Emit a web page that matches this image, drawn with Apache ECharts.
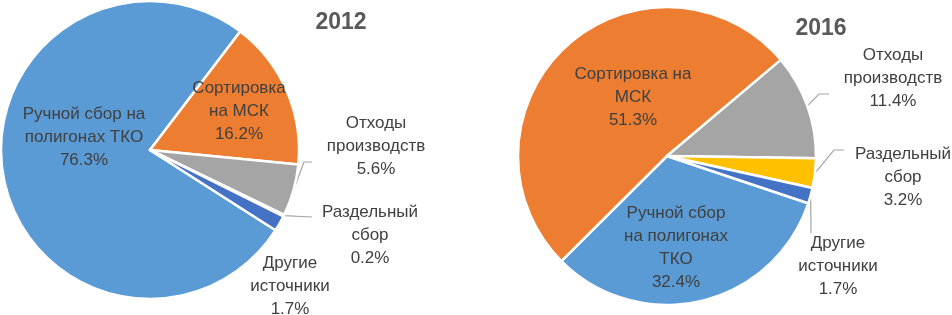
<!DOCTYPE html>
<html>
<head>
<meta charset="utf-8">
<script src="https://cdn.jsdelivr.net/npm/echarts@6/dist/echarts.min.js"></script>
<style>
html,body{margin:0;padding:0;background:#fff;}
#c{width:952px;height:315px;}
</style>
</head>
<body>
<div id="c"></div>
<script>
// ---- data ----
var categories = ['Ручной сбор на полигонах ТКО', 'Сортировка на МСК', 'Отходы производств', 'Раздельный сбор', 'Другие источники'];
var values2012 = [76.3, 16.2, 5.6, 0.2, 1.7];
var values2016 = [32.4, 51.3, 11.4, 3.2, 1.7];
var labels2012 = ['Ручной сбор на\nполигонах ТКО', 'Сортировка\nна МСК', 'Отходы\nпроизводств', 'Раздельный\nсбор', 'Другие\nисточники'];
var labels2016 = ['Ручной сбор\nна полигонах\nТКО', 'Сортировка на\nМСК', 'Отходы\nпроизводств', 'Раздельный\nсбор', 'Другие\nисточники'];
var titles = ['2012', '2016'];

// ---- styling / layout ----
var colors = ['#5B9BD5', '#ED7D31', '#A5A5A5', '#FFC000', '#4472C4'];
var labelPos2012 = [[84,137],[239,111],[376,146],[370,235],[290,286]];
var labelPos2016 = [[676,248],[633,97],[893,78],[903,177],[838,266]];
// extra leader-line points after the slice anchor (null = no leader line)
var guide2012 = [null, null, [[304,162],[312,162]], [[312,217]], null];
var guide2016 = [null, null, [[819,94],[829,94]], [[834,150],[844,150]], [[811,233]]];

var FONT = 'Liberation Sans';
var chart = echarts.init(document.getElementById('c'), null, {renderer: 'canvas'});

function buildData(vals, guide) {
  return vals.map(function (v, i) {
    return {
      name: categories[i],
      value: v,
      itemStyle: {color: colors[i]},
      label: {position: guide[i] ? 'outside' : 'inside'},
      labelLine: {show: !!guide[i]}
    };
  });
}

function makeSeries(vals, labels, pos, guide, center, startAngle) {
  return {
    type: 'pie',
    center: center,
    radius: [0, 149],
    startAngle: startAngle,
    clockwise: true,
    avoidLabelOverlap: false,
    animation: false,
    silent: true,
    itemStyle: {borderColor: '#ffffff', borderWidth: 2.5},
    label: {
      show: true,
      formatter: function (p) { return labels[p.dataIndex] + '\n' + p.value.toFixed(1) + '%'; },
      color: '#404040',
      fontFamily: FONT,
      fontSize: 17,
      lineHeight: 23,
      align: 'center'
    },
    labelLine: {show: true, length: 8, length2: 8, lineStyle: {color: '#A6A6A6', width: 1.2}},
    labelLayout: function (p) {
      var q = pos[p.dataIndex];
      var out = {x: q[0], y: q[1], align: 'center', verticalAlign: 'middle'};
      var g = guide[p.dataIndex];
      if (g && p.labelLinePoints) {
        out.labelLinePoints = [p.labelLinePoints[0]].concat(g);
      }
      return out;
    },
    data: buildData(vals, guide)
  };
}

chart.setOption({
  backgroundColor: '#ffffff',
  title: [
    {text: titles[0], left: 336, top: 18, textAlign: 'center', textVerticalAlign: 'middle',
     textStyle: {fontFamily: FONT, fontSize: 23, fontWeight: 'bold', color: '#595959'}},
    {text: titles[1], left: 816, top: 24, textAlign: 'center', textVerticalAlign: 'middle',
     textStyle: {fontFamily: FONT, fontSize: 23, fontWeight: 'bold', color: '#595959'}}
  ],
  series: [
    makeSeries(values2012, labels2012, labelPos2012, guide2012, [150, 150], 327.4),
    makeSeries(values2016, labels2016, labelPos2016, guide2016, [667, 156], 341.5)
  ]
});
</script>
</body>
</html>
